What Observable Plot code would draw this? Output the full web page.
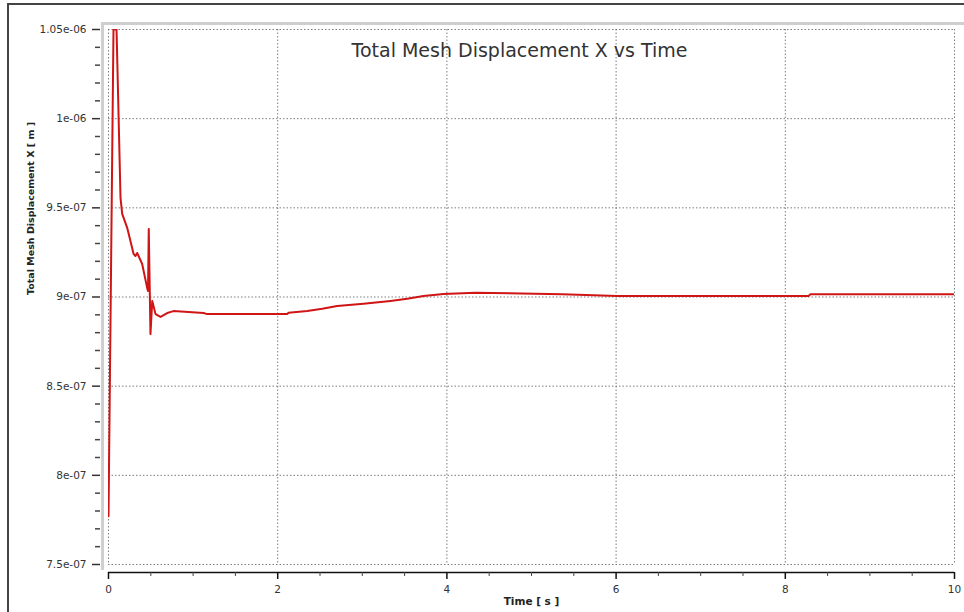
<!DOCTYPE html>
<html>
<head>
<meta charset="utf-8">
<script src="https://cdn.jsdelivr.net/npm/d3@7"></script>
<script src="https://cdn.jsdelivr.net/npm/@observablehq/plot@0.6"></script>
<style>
  html, body { margin: 0; padding: 0; background: #fff; }
  #wrap { position: relative; width: 964px; height: 612px; overflow: hidden; background: #fff; }
  #outer { position: absolute; left: 7px; top: 3px; width: 980px; height: 640px;
           border-left: 2px solid #444; border-top: 2px solid #444; }
  #pframe { position: absolute; left: 101px; top: 22px; width: 900px; height: 545px;
            border-left: 3px solid #cfcfcf; border-top: 3px solid #cfcfcf; }
  #chart { position: absolute; left: 0; top: 0; }
</style>
</head>
<body>
<div id="wrap">
  <div id="outer"></div>
  <div id="pframe"></div>
  <div id="chart"></div>
</div>
<script>
const title = "Total Mesh Displacement X vs Time";
const xLabel = "Time [ s ]";
const yLabel = "Total Mesh Displacement X [ m ]";

const time = [0, 0.059, 0.095, 0.142, 0.162, 0.221, 0.296, 0.319, 0.339, 0.398, 0.457, 0.467, 0.476, 0.496, 0.517, 0.556, 0.615, 0.694, 0.768, 1.123, 1.167, 2.112, 2.128, 2.349, 2.526, 2.703, 3.014, 3.333, 3.531, 3.723, 3.96, 4.338, 5.363, 6.013, 8.274, 8.298, 10];
const displacement = [7.77e-7, 1.05e-6, 1.05e-6, 9.556e-7, 9.466e-7, 9.388e-7, 9.242e-7, 9.23e-7, 9.247e-7, 9.185e-7, 9.051e-7, 9.034e-7, 9.382e-7, 8.792e-7, 8.978e-7, 8.904e-7, 8.888e-7, 8.91e-7, 8.921e-7, 8.91e-7, 8.904e-7, 8.904e-7, 8.912e-7, 8.921e-7, 8.934e-7, 8.949e-7, 8.962e-7, 8.978e-7, 8.99e-7, 9.006e-7, 9.017e-7, 9.024e-7, 9.015e-7, 9.006e-7, 9.006e-7, 9.015e-7, 9.015e-7];

const xTicks = [0, 2, 4, 6, 8, 10];
const xMinorTicks = [0.5, 1, 1.5, 2.5, 3, 3.5, 4.5, 5, 5.5, 6.5, 7, 7.5, 8.5, 9, 9.5];
const yTicks = [7.5e-7, 8e-7, 8.5e-7, 9e-7, 9.5e-7, 1e-6, 1.05e-6];
const yTickLabels = ["7.5e-07", "8e-07", "8.5e-07", "9e-07", "9.5e-07", "1e-06", "1.05e-06"];
const yMinorTicks = [7.6e-7, 7.7e-7, 7.8e-7, 7.9e-7, 8.1e-7, 8.2e-7, 8.3e-7, 8.4e-7, 8.6e-7, 8.7e-7, 8.8e-7, 8.9e-7, 9.1e-7, 9.2e-7, 9.3e-7, 9.4e-7, 9.6e-7, 9.7e-7, 9.8e-7, 9.9e-7, 1.01e-6, 1.02e-6, 1.03e-6, 1.04e-6];

const data = time.map((t, i) => ({t, v: displacement[i]}));

const chart = Plot.plot({
  width: 964,
  height: 612,
  marginLeft: 108,
  marginRight: 10,
  marginTop: 29,
  marginBottom: 48,
  style: {background: "transparent", fontFamily: "DejaVu Sans, sans-serif", fontSize: "10.5px", color: "#333"},
  x: {domain: [0, 10]},
  y: {domain: [7.5e-7, 1.05e-6]},
  marks: [
    Plot.gridX(xTicks, {stroke: "#666", strokeOpacity: 0.85, strokeDasharray: "1.5,2"}),
    Plot.gridY(yTicks, {stroke: "#666", strokeOpacity: 0.85, strokeDasharray: "1.5,2"}),
    Plot.axisY({ticks: yTicks, tickFormat: d => yTickLabels[yTicks.indexOf(d)], tickSize: 8, dx: -8, tickPadding: 6, label: null, stroke: "#333", strokeWidth: 1.5, fill: "#333"}),
    Plot.axisY({ticks: yMinorTicks, tickFormat: () => "", tickSize: 5, dx: -8, label: null, stroke: "#444", strokeWidth: 1.5}),
    Plot.ruleY([7.5e-7], {dy: 8, stroke: "#111", strokeWidth: 1.5}),
    Plot.axisX({ticks: xTicks, tickFormat: d => String(d), tickSize: 7, dy: 8, tickPadding: 6, label: null, stroke: "#111", strokeWidth: 1.5, fill: "#333"}),
    Plot.axisX({ticks: xMinorTicks, tickFormat: () => "", tickSize: 4, dy: 8, label: null, stroke: "#444"}),
    Plot.line(data, {x: "t", y: "v", stroke: "#cf1515", strokeWidth: 2, clip: true}),
    Plot.text([title], {frameAnchor: "top", dx: -12, dy: 14, fontSize: 19, fill: "#333", fontFamily: "DejaVu Sans, sans-serif"}),
    Plot.text([xLabel], {frameAnchor: "bottom", dy: 40, fontSize: 10.5, fontWeight: "bold", fill: "#222"}),
    Plot.text([yLabel], {frameAnchor: "left", dx: -78, dy: -2, rotate: -90, fontSize: 9.5, fontWeight: "bold", fill: "#222"})
  ]
});
document.getElementById("chart").appendChild(chart);
</script>
</body>
</html>
